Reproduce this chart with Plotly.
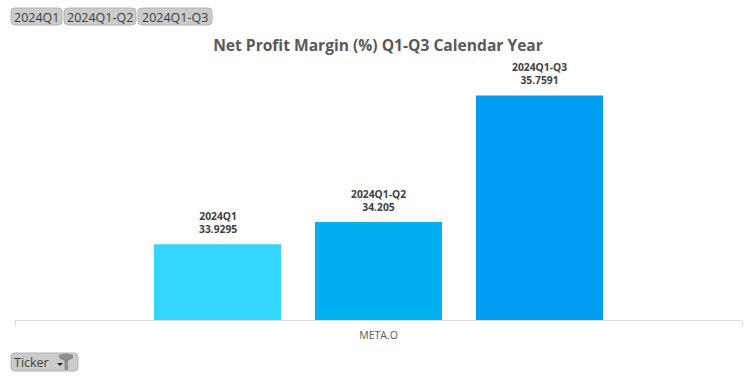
import plotly.graph_objects as go

W, H = 756, 378
L, R, T, B = 15, 14, 40, 58

categories = ["META.O"]
periods = ["2024Q1", "2024Q1-Q2", "2024Q1-Q3"]
values = [33.9295, 34.205, 35.7591]
value_labels = ["33.9295", "34.205", "35.7591"]
colors = ["#33D6FF", "#00B0F0", "#009EF2"]
title = "Net Profit Margin (%) Q1-Q3 Calendar Year"
filter_name = "Ticker"


def fx(p):
    return (p - L) / (W - L - R)


def fy(p):
    return 1 - (p - T) / (H - T - B)


def rounded(x0, y0, x1, y1, r=4):
    a, b, c, d = fx(x0), fy(y0), fx(x1), fy(y1)
    ax, bx = fx(x0 + r), fx(x1 - r)
    ay, by = fy(y0 + r), fy(y1 - r)
    return (f"M{ax},{b} L{bx},{b} Q{c},{b} {c},{ay} L{c},{by} Q{c},{d} {bx},{d} "
            f"L{ax},{d} Q{a},{d} {a},{by} L{a},{ay} Q{a},{b} {ax},{b} Z")


def button(x0, y0, x1, y1):
    return dict(type="path", xref="paper", yref="paper", path=rounded(x0, y0, x1, y1),
                line=dict(color="#B4B4B4", width=1),
                fillcolor="#CBCBCB", layer="above")


fig = go.Figure()
for name, v, c in zip(periods, values, colors):
    fig.add_bar(
        x=categories, y=[v], name=name, marker=dict(color=c, line=dict(width=0)),
        cliponaxis=False, hoverinfo="skip",
    )

shapes = [button(11, 8, 62, 25), button(64, 8, 136, 25), button(138, 8, 212, 25), button(11, 353, 78, 371)]
# filter funnel icon on the Ticker button
shapes.append(dict(type="path", xref="paper", yref="paper",
                   path=f"M{fx(59)},{fy(355)} Q{fx(66)},{fy(352)} {fx(73)},{fy(355)} L{fx(73)},{fy(358)} L{fx(68)},{fy(361)} "
                        f"L{fx(68)},{fy(370)} L{fx(64.5)},{fy(370)} L{fx(64.5)},{fy(361)} L{fx(59)},{fy(358)} Z",
                   fillcolor="#8C8C8C", line=dict(width=0), layer="above"))
shapes.append(dict(type="path", xref="paper", yref="paper",
                   path=f"M{fx(57)},{fy(363)} L{fx(63)},{fy(363)} L{fx(60)},{fy(366)} Z",
                   fillcolor="#222222", line=dict(width=0), layer="above"))

annotations = []
for text, cx, cy in [(periods[0], 36.5, 17), (periods[1], 100, 17), (periods[2], 175, 17)]:
    annotations.append(dict(text=text, x=fx(cx), y=fy(cy), xref="paper", yref="paper", showarrow=False,
                            font=dict(family="Open Sans", size=12.5, color="#404040"),
                            xanchor="center", yanchor="middle"))
annotations.append(dict(text=filter_name, x=fx(14), y=fy(362), xref="paper", yref="paper", showarrow=False,
                        font=dict(family="Open Sans", size=12.5, color="#404040"),
                        xanchor="left", yanchor="middle", xshift=-2))
# data labels above the bars, anchored to the data values
for i, (name, v, lab) in enumerate(zip(periods, values, value_labels)):
    annotations.append(dict(text=f"{name}<br>{lab}", x=categories[0], y=v, xref="x", yref="y",
                            showarrow=False, xanchor="center", yanchor="bottom",
                            xshift=(i - 1) * 161, yshift=6,
                            font=dict(family="Open Sans", size=10.3, color="#404040", weight=700)))

fig.update_layout(
    width=W, height=H,
    margin=dict(l=L, r=R, t=T, b=B, pad=0),
    paper_bgcolor="white", plot_bgcolor="white",
    barmode="group", bargap=0.3356, bargroupgap=0.211,
    showlegend=False,
    title=dict(text=title, x=378 / W, xanchor="center", y=1 - 46 / H, yanchor="middle",
               font=dict(family="Open Sans", size=15.6, color="#595959", weight="bold")),
    xaxis=dict(type="category", tickson="boundaries", ticks="outside", ticklen=5, tickcolor="#D9D9D9",
               tickwidth=1, showline=True, linecolor="#D9D9D9", linewidth=1, showgrid=False,
               ticklabelstandoff=5,
               tickfont=dict(family="Open Sans", size=10.5, color="#595959")),
    yaxis=dict(range=[33, 36.44], visible=False, showgrid=False, zeroline=False),
    shapes=shapes, annotations=annotations,
)
fig.write_html("out.html", config={"displayModeBar": False},
               post_script="document.body.style.margin='0';")
